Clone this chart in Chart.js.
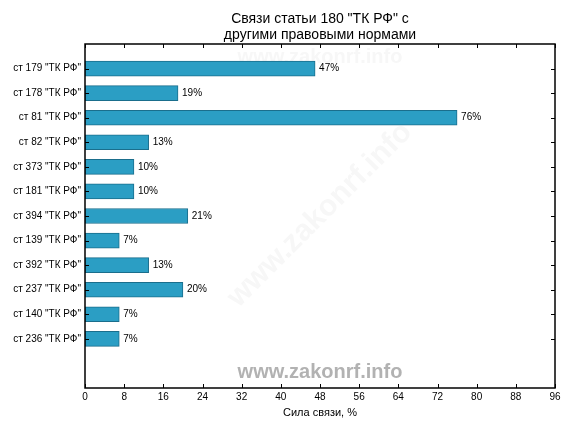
<!DOCTYPE html>
<html lang="ru">
<head>
    <meta charset="UTF-8">
    <title>Связи статьи 180 ТК РФ</title>
    <script src="https://cdn.jsdelivr.net/npm/chart.js"></script>
    <style>
        html, body { margin: 0; padding: 0; background: #fff; }
        #wrap { width: 576px; height: 432px; }
    </style>
</head>
<body>
    <div id="wrap"><canvas id="chart" width="576" height="432"></canvas></div>

    <script>
        // данные
        const articles = ['ст 179 "ТК РФ"', 'ст 178 "ТК РФ"', 'ст 81 "ТК РФ"', 'ст 82 "ТК РФ"',
            'ст 373 "ТК РФ"', 'ст 181 "ТК РФ"', 'ст 394 "ТК РФ"', 'ст 139 "ТК РФ"',
            'ст 392 "ТК РФ"', 'ст 237 "ТК РФ"', 'ст 140 "ТК РФ"', 'ст 236 "ТК РФ"'];
        const strength = [47, 19, 76, 13, 10, 10, 21, 7, 13, 20, 7, 7];
        const xTicks = [0, 8, 16, 24, 32, 40, 48, 56, 64, 72, 80, 88, 96];
        const titleLines = ['Связи статьи 180 "ТК РФ" с', 'другими правовыми нормами'];
        const xTitle = 'Сила связи, %';

        const FONT = '"Liberation Sans", Arial, sans-serif';

        // рамка, внутренние засечки, подписи значений, заголовок, водяные знаки
        const decor = {
            id: 'decor',
            beforeDatasetsDraw(chart) {
                const ctx = chart.ctx, a = chart.chartArea;
                const cx = (a.left + a.right) / 2;
                ctx.save();
                ctx.font = 'bold 20px ' + FONT;
                ctx.fillStyle = '#f7f7f7';
                ctx.textAlign = 'center';
                ctx.textBaseline = 'middle';
                ctx.fillText('www.zakonrf.info', cx, 57);
                ctx.translate(cx, 215);
                ctx.rotate(-Math.PI / 4);
                ctx.font = 'bold 30px ' + FONT;
                ctx.fillText('www.zakonrf.info', 0, 0);
                ctx.restore();
            },
            afterDatasetsDraw(chart) {
                const ctx = chart.ctx, a = chart.chartArea;
                const xs = chart.scales.x, ys = chart.scales.y;
                ctx.save();
                ctx.strokeStyle = '#000';
                ctx.lineWidth = 1;
                // засечки
                ctx.beginPath();
                xs.ticks.forEach(t => {
                    const px = Math.round(xs.getPixelForValue(t.value)) + 0.5;
                    ctx.moveTo(px, a.bottom); ctx.lineTo(px, a.bottom - 4);
                    ctx.moveTo(px, a.top); ctx.lineTo(px, a.top + 4);
                });
                ys.ticks.forEach(t => {
                    const py = Math.round(ys.getPixelForValue(t.value)) + 0.5;
                    ctx.moveTo(a.left, py); ctx.lineTo(a.left + 4, py);
                    ctx.moveTo(a.right, py); ctx.lineTo(a.right - 4, py);
                });
                ctx.stroke();
                ctx.lineWidth = 1.5;
                ctx.strokeRect(a.left, a.top, a.right - a.left, a.bottom - a.top);

                // подписи значений
                ctx.fillStyle = '#000';
                ctx.font = '10px ' + FONT;
                ctx.textAlign = 'left';
                ctx.textBaseline = 'middle';
                strength.forEach((v, i) => {
                    ctx.fillText(v + '%', xs.getPixelForValue(v) + 4, ys.getPixelForValue(i));
                });

                // водяной знак снизу
                ctx.font = 'bold 20px ' + FONT;
                ctx.fillStyle = '#b2b2b2';
                ctx.textAlign = 'center';
                ctx.fillText('www.zakonrf.info', (a.left + a.right) / 2, 372);

                // заголовок
                ctx.fillStyle = '#000';
                ctx.font = '14px ' + FONT;
                titleLines.forEach((l, i) => ctx.fillText(l, (a.left + a.right) / 2, 19 + i * 16));
                ctx.restore();
            }
        };

        new Chart(document.getElementById('chart'), {
            type: 'bar',
            data: {
                datasets: [{
                    data: strength.map((v, i) => ({ x: v, y: i })),
                    backgroundColor: '#2b9ec4',
                    borderColor: '#1a6e8c',
                    borderWidth: 1,
                    borderSkipped: false,
                    barThickness: 15
                }]
            },
            options: {
                indexAxis: 'y',
                responsive: false,
                animation: false,
                layout: { padding: { left: 0, right: 21, top: 44, bottom: 0 } },
                plugins: { legend: { display: false }, tooltip: { enabled: false } },
                scales: {
                    x: {
                        type: 'linear',
                        min: 0, max: 96,
                        offset: false,
                        afterBuildTicks: s => { s.ticks = xTicks.map(v => ({ value: v })); },
                        afterFit: s => { s.height = 44; },
                        grid: { display: false, drawTicks: false, tickLength: 0 },
                        border: { display: false },
                        ticks: { color: '#000', font: { family: FONT, size: 10 }, padding: 3, maxRotation: 0 },
                        title: { display: true, text: xTitle, color: '#000', font: { family: FONT, size: 11 }, padding: { top: 3, bottom: 12 } }
                    },
                    y: {
                        type: 'linear',
                        min: -1, max: 13,
                        reverse: true,
                        offset: false,
                        afterBuildTicks: s => { s.ticks = articles.map((_, i) => ({ value: i })); },
                        afterFit: s => { s.width = 85; },
                        grid: { display: false, drawTicks: false, tickLength: 0 },
                        border: { display: false },
                        ticks: {
                            color: '#000', font: { family: FONT, size: 10 }, padding: 4,
                            callback: v => articles[v] || ''
                        }
                    }
                }
            },
            plugins: [decor]
        });
    </script>
</body>
</html>
